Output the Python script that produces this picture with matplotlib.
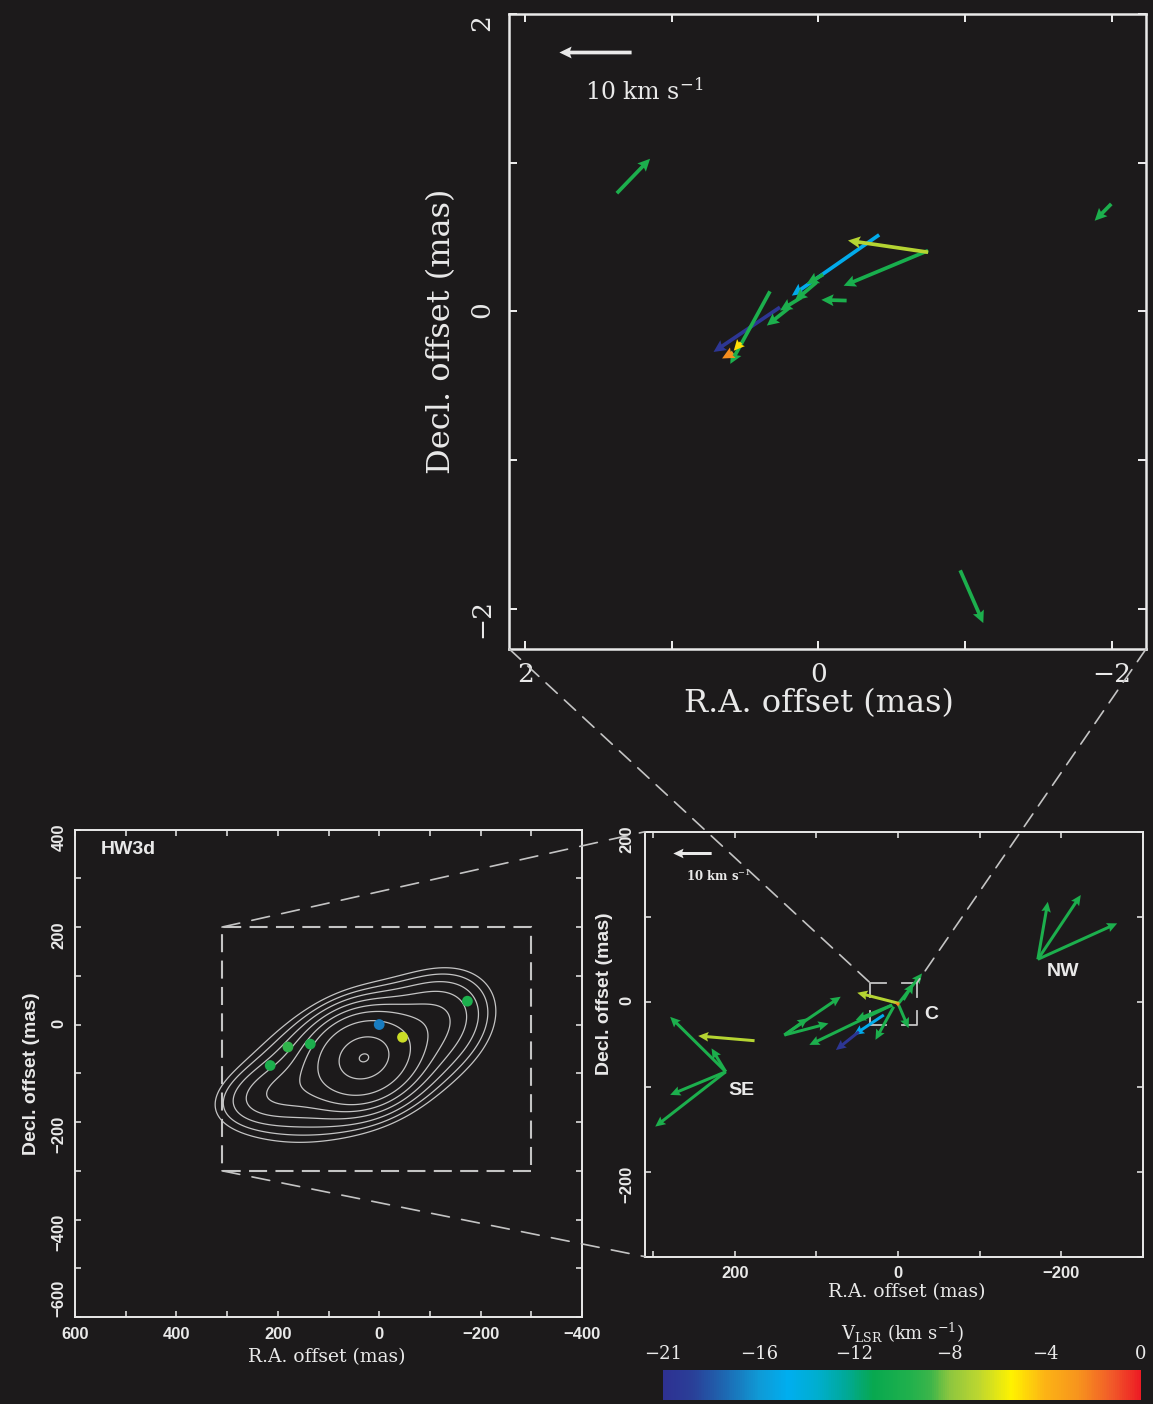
import numpy as np
import matplotlib
matplotlib.use("Agg")
import matplotlib.pyplot as plt
from matplotlib.colors import LinearSegmentedColormap, FuncNorm
from matplotlib.cm import ScalarMappable
from matplotlib.patches import ConnectionPatch, Rectangle
from matplotlib.ticker import FixedLocator, MultipleLocator

plt.rcParams.update({
    "lines.scale_dashes": False,
    "mathtext.fontset": "dejavuserif",
})

BG = "#1c1a1b"
FG = "#e9e9e9"
GREY = "#c4c4c4"
SERIF = "DejaVu Serif"
SANS = "Liberation Sans"

# ---------------------------------------------------------------- data
# V_LSR wedge (km/s); the labelled values sit evenly along the bar
vlsr_ticks = [-21, -16, -12, -8, -4, 0]
wedge_pos = [0.00, 0.06, 0.12, 0.20, 0.26, 0.32, 0.38, 0.44, 0.52, 0.56,
             0.60, 0.66, 0.73, 0.80, 0.87, 0.94, 1.00]
wedge_hex = ["#2e3192", "#2a3f98", "#1f63ae", "#0f9ad6", "#00aeef", "#00aed0",
             "#00a99a", "#08a84f", "#22b14c", "#3cb54a", "#8dc63f", "#bcd630",
             "#fff200", "#fcb315", "#f7941d", "#f15a29", "#ed1c24"]

# Central cluster C (offsets in mas, proper motions in km/s, +RA = east)
inner_ra = [-0.414, 0.263, 1.376, -1.998, -0.967, -0.748, -0.192, 0.331,
            -0.032, 0.013, 0.115, 0.195, -0.748, 0.529, 0.584]
inner_dec = [0.515, 0.028, 0.795, 0.723, -1.741, 0.409, 0.073, 0.135,
             0.248, 0.196, 0.095, 0.028, 0.398, -0.210, -0.277]
inner_vra = [12.1, 9.2, -4.6, 2.3, -3.2, 11.7, 3.5, 5.5,
             2.3, 3.0, 3.0, 3.2, 11.1, 1.0, 1.5]
inner_vdec = [-8.3, -6.1, 4.7, -2.3, -7.2, -4.8, 0.1, -9.9,
              -1.3, -2.5, -1.8, -2.5, 1.6, -1.1, -0.8]
inner_vlsr = [-15.0, -20.5, -10.0, -10.0, -10.0, -10.2, -10.0, -10.0,
              -10.0, -10.0, -10.0, -10.0, -7.0, -5.0, -2.5]

# Whole HW3d maser field (mas, km/s)
wide_ra = [211.1, 211.1, 211.1, 211.1, 139.3, 139.3, 139.3,
           7.3, 7.3, 5.4, -0.7, -0.7, -6.5,
           -171.2, -171.2, -171.2,
           17.5, 48.0, 175.8, -0.7, -1.6]
wide_dec = [-82.4, -82.4, -82.4, -82.4, -39.2, -39.2, -39.2,
            -3.9, -3.9, -5.9, -3.9, -1.9, 2.0,
            49.9, 49.9, 49.9,
            -15.6, -35.3, -45.9, -1.9, -3.5]
wide_vra = [14.5, 3.7, 14.5, 18.4, -14.7, -11.5, -6.1,
            21.6, 9.5, 4.75, -2.6, -6.1, -2.6,
            -2.6, -11.2, -20.7,
            7.8, 6.0, 14.7, 10.8, 1.2]
wide_vdec = [13.75, 5.85, -5.8, -13.75, 9.6, 2.9, 4.2,
             -10.0, -3.75, -8.3, -5.8, 7.5, 4.2,
             14.4, 16.1, 9.0,
             -5.0, -4.6, 1.2, 2.65, 0.5]
wide_vlsr = [-10.0, -10.0, -10.0, -10.0, -10.0, -10.0, -10.0,
             -10.0, -10.0, -10.0, -10.0, -10.0, -10.0,
             -10.0, -10.0, -10.0,
             -15.0, -20.5, -7.0, -7.0, -2.5]
group_names = ["NW", "SE", "C"]
group_ra = [-202.0, 192.0, -40.3]
group_dec = [35.0, -104.0, -15.6]

# Maser spots over the continuum map (mas, km/s)
spot_ra = [-174, 0, -46, 136, 180, 215]
spot_dec = [48, 0, -26, -40, -46, -84]
spot_vlsr = [-10.0, -17.0, -6.5, -10.0, -9.2, -10.0]

# Continuum model: elliptical gaussian components (mas, peak, sigmas, PA deg)
cont_ra = [30, 40, 220, -120]
cont_dec = [-68, -75, -145, 20]
cont_peak = [1.0, 0.35, 0.11, 0.12]
cont_major = [55, 150, 70, 70]
cont_minor = [48, 80, 38, 55]
cont_pa = [-65, -65, -75, -50]
cont_levels = [0.08, 0.105, 0.14, 0.19, 0.26, 0.36, 0.55, 1.0, 1.34]

# Field limits (mas)
inner_xlim = (2.11, -2.235)
inner_ylim = (-2.27, 2.0)
map_xlim = (600, -400)
map_ylim = (-600, 400)
zoom_x = (310, -300)          # region shown in the wide maser panel
zoom_y = (-300, 200)
cbox_x = (34, -23)            # region shown in the inner panel
cbox_y = (-27, 22)

key_kms = 10
inner_kms_per_mas = 20.3
wide_kms_per_mas = 0.213

# ---------------------------------------------------------------- colours
cmap = LinearSegmentedColormap.from_list("vlsr", list(zip(wedge_pos, wedge_hex)))
tick_frac = np.linspace(0, 1, len(vlsr_ticks))
norm = FuncNorm((lambda v: np.interp(v, vlsr_ticks, tick_frac),
                 lambda p: np.interp(p, tick_frac, vlsr_ticks)),
                vmin=vlsr_ticks[0], vmax=vlsr_ticks[-1])

W, H = 1153, 1404
fig = plt.figure(figsize=(W / 100, H / 100), dpi=100, facecolor=BG)


def px_axes(left, top, right, bottom):
    return fig.add_axes([left / W, 1 - bottom / H, (right - left) / W, (bottom - top) / H])


def style_frame(ax, lw, tick_len, labelsize, family, weight="normal"):
    ax.set_facecolor(BG)
    for sp in ax.spines.values():
        sp.set_color(FG)
        sp.set_linewidth(lw)
    ax.tick_params(which="both", direction="in", top=True, right=True,
                   length=tick_len, width=lw * 0.8, colors=FG,
                   labelsize=labelsize, labelcolor=FG)
    ax.tick_params(axis="y", labelrotation=90)
    for lbl in ax.get_xticklabels() + ax.get_yticklabels():
        lbl.set_family(family)
        lbl.set_weight(weight)


# ---------------------------------------------------------------- inner panel
ax_in = px_axes(509.3, 14, 1146, 649)
ax_in.set_xlim(*inner_xlim)
ax_in.set_ylim(*inner_ylim)
ax_in.xaxis.set_major_locator(FixedLocator([2, 0, -2]))
ax_in.xaxis.set_minor_locator(FixedLocator([1, -1]))
ax_in.yaxis.set_major_locator(FixedLocator([-2, 0, 2]))
ax_in.yaxis.set_minor_locator(FixedLocator([-1, 1]))
ax_in.xaxis.set_major_formatter(lambda v, p: f"{v:.0f}".replace("-", "\u2212"))
ax_in.yaxis.set_major_formatter(lambda v, p: f"{v:.0f}".replace("-", "\u2212"))
style_frame(ax_in, 1.8, 6, 19, SERIF)
ax_in.tick_params(axis="x", pad=9)
ax_in.tick_params(axis="y", pad=11)
for lbl in ax_in.get_xticklabels() + ax_in.get_yticklabels():
    lbl.set_family(SERIF)
ax_in.yaxis.get_major_ticks()[-1].label1.set_verticalalignment("top")

q_in = ax_in.quiver(inner_ra, inner_dec, inner_vra, inner_vdec, inner_vlsr,
                    cmap=cmap, norm=norm, angles="xy", scale_units="xy",
                    scale=inner_kms_per_mas, units="dots", width=3.7,
                    headwidth=3.2, headlength=3.3, headaxislength=2.9,
                    pivot="tail", zorder=3)
ax_in.quiverkey(q_in, 0.134, 0.9406, key_kms, "", coordinates="axes",
                color=FG, angle=180, labelpos="N")
ax_in.text(0.119, 0.8646, "10 km s$^{-1}$", transform=ax_in.transAxes,
           ha="left", va="baseline", color=FG, fontsize=17, family=SERIF)
ax_in.set_xlabel("R.A. offset (mas)", color=FG, fontsize=23, family=SERIF)
ax_in.set_ylabel("Decl. offset (mas)", color=FG, fontsize=23, family=SERIF)
ax_in.xaxis.set_label_coords(0.4864, -0.062)
ax_in.yaxis.set_label_coords(-0.082, 0.5)

# ---------------------------------------------------------------- continuum map
ax_map = px_axes(75, 829.6, 582, 1317)
ax_map.set_xlim(*map_xlim)
ax_map.set_ylim(*map_ylim)
for axis in (ax_map.xaxis, ax_map.yaxis):
    axis.set_major_locator(MultipleLocator(200))
    axis.set_minor_locator(MultipleLocator(100))
    axis.set_major_formatter(lambda v, p: f"{v:.0f}".replace("-", "\u2212"))
style_frame(ax_map, 1.4, 4.5, 12, SANS, "bold")
ax_map.tick_params(axis="x", pad=7)
ax_map.tick_params(axis="y", pad=6)
# lowest y label sits just above the corner so it clears the first x label
ax_map.yaxis.get_major_ticks()[1].label1.set_verticalalignment("bottom")

gx = np.linspace(-400, 600, 601)
gy = np.linspace(-600, 400, 601)
GX, GY = np.meshgrid(gx, gy)
field = np.zeros_like(GX)
for x0, y0, amp, sa, sb, pa in zip(cont_ra, cont_dec, cont_peak,
                                   cont_major, cont_minor, cont_pa):
    t = np.radians(pa)
    dx, dy = GX - x0, GY - y0
    u = dx * np.sin(t) + dy * np.cos(t)
    w = dx * np.cos(t) - dy * np.sin(t)
    field += amp * np.exp(-0.5 * ((u / sa) ** 2 + (w / sb) ** 2))
ax_map.contour(GX, GY, field, levels=cont_levels, colors=GREY, linewidths=0.9)
ax_map.scatter(spot_ra, spot_dec, c=spot_vlsr, cmap=cmap, norm=norm, s=60,
               edgecolors="none", zorder=4)
ax_map.add_patch(Rectangle((zoom_x[1], zoom_y[0]), zoom_x[0] - zoom_x[1],
                           zoom_y[1] - zoom_y[0], fill=False, ec=GREY, lw=1.5,
                           ls=(0, (13, 6))))
ax_map.text(0.051, 0.960, "HW3d", transform=ax_map.transAxes, ha="left",
            va="center", color=FG, fontsize=14, family=SANS, weight="bold")
ax_map.set_xlabel("R.A. offset (mas)", color=FG, fontsize=13.5, family=SERIF)
ax_map.set_ylabel("Decl. offset (mas)", color=FG, fontsize=14, family=SANS,
                  weight="bold")
ax_map.xaxis.set_label_coords(0.497, -0.064)
ax_map.yaxis.set_label_coords(-0.069, 0.5)

# ---------------------------------------------------------------- wide maser panel
ax_w = px_axes(645, 831.7, 1143, 1256.7)
ax_w.set_xlim(*zoom_x)
ax_w.set_ylim(*zoom_y)
for axis in (ax_w.xaxis, ax_w.yaxis):
    axis.set_major_locator(MultipleLocator(200))
    axis.set_minor_locator(MultipleLocator(100))
    axis.set_major_formatter(lambda v, p: f"{v:.0f}".replace("-", "\u2212"))
style_frame(ax_w, 1.4, 4.5, 12, SANS, "bold")
ax_w.tick_params(axis="x", pad=7)
ax_w.tick_params(axis="y", pad=8)

q_w = ax_w.quiver(wide_ra, wide_dec, wide_vra, wide_vdec, wide_vlsr,
                  cmap=cmap, norm=norm, angles="xy", scale_units="xy",
                  scale=wide_kms_per_mas, units="dots", width=3.0,
                  headwidth=3.2, headlength=3.4, headaxislength=3.0,
                  pivot="tail", zorder=3)
ax_w.quiverkey(q_w, 0.095, 0.9506, key_kms, "", coordinates="axes",
               color=FG, angle=180, labelpos="N")
ax_w.text(0.0823, 0.884, "10 km s$^{-1}$", transform=ax_w.transAxes,
          ha="left", va="baseline", color=FG, fontsize=8.5, family=SERIF,
          weight="bold")
for name, gxp, gyp in zip(group_names, group_ra, group_dec):
    ax_w.text(gxp, gyp, name, ha="center", va="center", color=FG, fontsize=14,
              family=SANS, weight="bold", zorder=5)

# corner brackets around the region of the inner panel
arm_x = 0.33 * (cbox_x[0] - cbox_x[1])
arm_y = 0.33 * (cbox_y[1] - cbox_y[0])
for cx, sx in ((cbox_x[0], -1), (cbox_x[1], 1)):
    for cy, sy in ((cbox_y[1], -1), (cbox_y[0], 1)):
        ax_w.plot([cx + sx * arm_x, cx, cx], [cy, cy, cy + sy * arm_y],
                  color=GREY, lw=1.3, zorder=2)

ax_w.set_xlabel("R.A. offset (mas)", color=FG, fontsize=13.5, family=SERIF)
ax_w.set_ylabel("Decl. offset (mas)", color=FG, fontsize=14, family=SANS,
                weight="bold")
ax_w.xaxis.set_label_coords(0.5255, -0.062)
ax_w.yaxis.set_label_coords(-0.064, 0.62)

# ---------------------------------------------------------------- connectors
dash = (0, (11, 7))
for xa, ya, xb, yb in ((0, 0, cbox_x[0], cbox_y[1]), (1, 0, cbox_x[1], cbox_y[1])):
    fig.add_artist(ConnectionPatch(xyA=(xa, ya), coordsA=ax_in.transAxes,
                                   xyB=(xb, yb), coordsB=ax_w.transData,
                                   color=GREY, lw=1.2, ls=dash, zorder=1))
for ya, yb in ((zoom_y[1], 1), (zoom_y[0], 0)):
    fig.add_artist(ConnectionPatch(xyA=(zoom_x[0], ya), coordsA=ax_map.transData,
                                   xyB=(0, yb), coordsB=ax_w.transAxes,
                                   color=GREY, lw=1.2, ls=(0, (13, 9)), zorder=1))

# ---------------------------------------------------------------- colour wedge
cax = px_axes(663.3, 1370, 1141, 1400)
cb = fig.colorbar(ScalarMappable(norm=norm, cmap=cmap), cax=cax,
                  orientation="horizontal", ticks=vlsr_ticks)
cb.outline.set_visible(False)
cax.xaxis.set_ticks_position("top")
cax.xaxis.set_label_position("top")
cax.tick_params(length=0, pad=5, labelsize=13, colors=FG)
cax.set_xticklabels([f"{v}".replace("-", "\u2212") for v in vlsr_ticks],
                    family=SERIF, color=FG)
cb.set_label("V$_{\\rm LSR}$ (km s$^{-1}$)", color=FG, fontsize=13,
             family=SERIF, labelpad=4)

fig.savefig("out.png", dpi=100, facecolor=BG)
